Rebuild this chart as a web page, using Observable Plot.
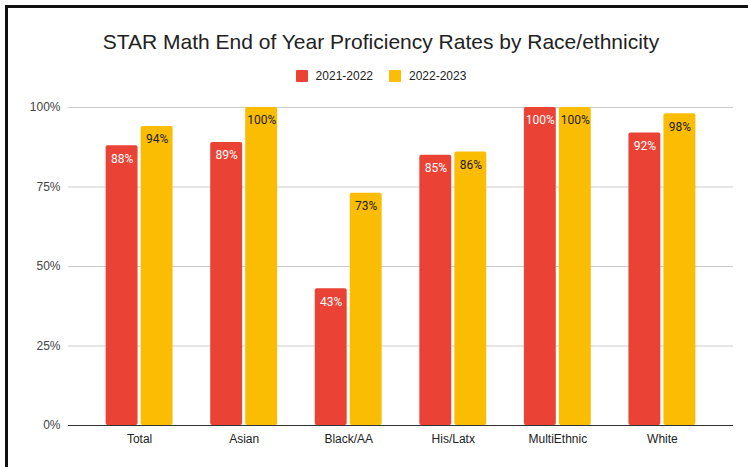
<!DOCTYPE html>
<html>
<head>
<meta charset="utf-8">
<script src="https://cdn.jsdelivr.net/npm/d3@7"></script>
<script src="https://cdn.jsdelivr.net/npm/@observablehq/plot@0.6"></script>
<style>
  html, body { margin: 0; padding: 0; background: #fff; }
  body { width: 748px; height: 467px; position: relative; overflow: hidden; font-family: "Liberation Sans", Arial, sans-serif; }
  #frame { position: absolute; left: 5px; top: 5px; width: 800px; height: 500px; border-top: 3px solid #111; border-left: 3px solid #111; box-sizing: border-box; }
  #title { position: absolute; left: 7px; width: 748px; top: 30px; text-align: center; font-size: 21px; color: #222; }
  #legend { position: absolute; left: 7px; width: 748px; top: 69px; display: flex; justify-content: center; align-items: center; font-size: 12px; color: #222; }
  #legend .item { display: flex; align-items: center; margin: 0 8px; }
  #legend .sw { width: 12px; height: 12px; margin-right: 8px; border-radius: 1px; }
  #chart { position: absolute; left: 0; top: 90px; }
</style>
</head>
<body>
<div id="frame"></div>
<div id="title"></div>
<div id="legend"></div>
<div id="chart"></div>
<script>
const title = "STAR Math End of Year Proficiency Rates by Race/ethnicity";
const categories = ["Total", "Asian", "Black/AA", "His/Latx", "MultiEthnic", "White"];
const seriesNames = ["2021-2022", "2022-2023"];
const seriesColors = ["#EA4335", "#FBBC04"];
const values2122 = [0.88, 0.89, 0.43, 0.85, 1.00, 0.92];
const values2223 = [0.94, 1.00, 0.73, 0.86, 1.00, 0.98];
const yTicks = [0, 0.25, 0.5, 0.75, 1];

document.getElementById("title").textContent = title;
const legend = document.getElementById("legend");
seriesNames.forEach((name, i) => {
  const item = document.createElement("div");
  item.className = "item";
  const sw = document.createElement("div");
  sw.className = "sw";
  sw.style.background = seriesColors[i];
  const t = document.createElement("span");
  t.textContent = name;
  item.appendChild(sw);
  item.appendChild(t);
  legend.appendChild(item);
});

const rows1 = categories.map((c, i) => ({cat: c, value: values2122[i]}));
const rows2 = categories.map((c, i) => ({cat: c, value: values2223[i]}));
const pct = d3.format(".0%");

const chart = Plot.plot({
  width: 748,
  height: 377,
  marginLeft: 68,
  marginRight: 15,
  marginTop: 17,
  marginBottom: 42,
  style: {fontFamily: "'Liberation Sans', Arial, sans-serif", fontSize: "12px", background: "transparent"},
  x: {domain: categories, padding: 0.36, round: false, label: null},
  y: {domain: [0, 1], label: null},
  marks: [
    Plot.gridY(yTicks, {stroke: "#cccccc", strokeOpacity: 1}),
    Plot.axisY(yTicks, {tickFormat: pct, tickSize: 0, tickPadding: 8, fill: "#444", fontSize: 12, label: null}),
    Plot.axisX({tickSize: 0, tickPadding: 9, fill: "#222", fontSize: 12, label: null}),
    Plot.barY(rows1, {x: "cat", y: "value", fill: seriesColors[0], insetRight: 35, rx: 2}),
    Plot.barY(rows2, {x: "cat", y: "value", fill: seriesColors[1], insetLeft: 35, rx: 2}),
    Plot.ruleY([0], {stroke: "#333"}),
    Plot.text(rows1, {x: "cat", y: "value", text: d => pct(d.value), dx: -17.5, dy: 13, fill: "#fff", fontSize: 12, fontFamily: "Roboto"}),
    Plot.text(rows2, {x: "cat", y: "value", text: d => pct(d.value), dx: 17.5, dy: 13, fill: "#222", fontSize: 12, fontFamily: "Roboto"})
  ]
});
document.getElementById("chart").appendChild(chart);
</script>
</body>
</html>
